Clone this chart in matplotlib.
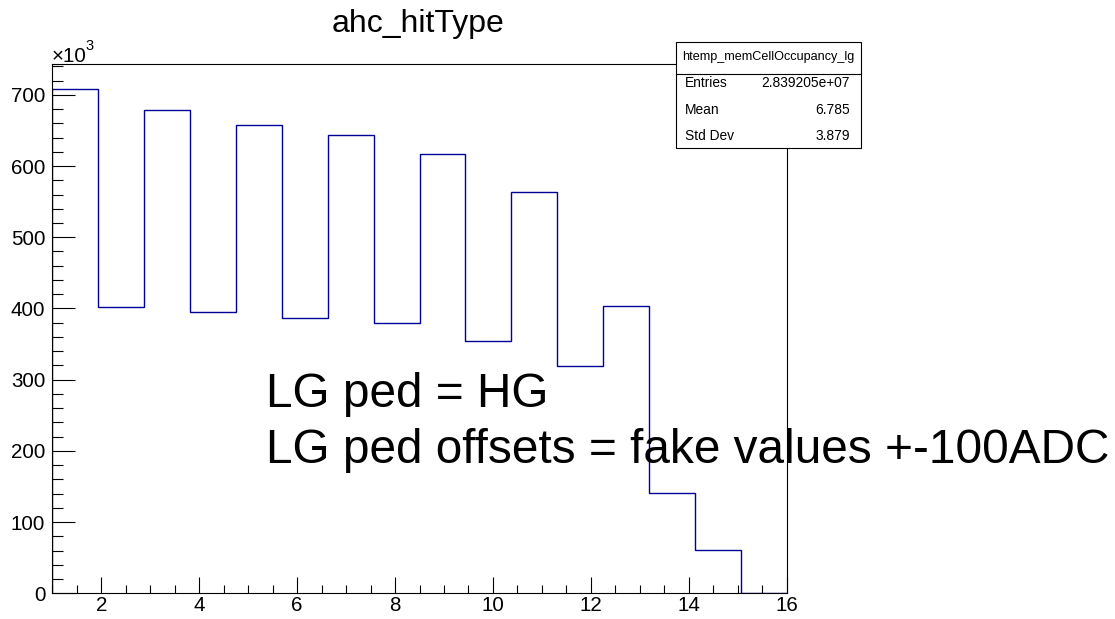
import numpy as np
import matplotlib
matplotlib.use("Agg")
import matplotlib.pyplot as plt
from matplotlib.patches import Rectangle
from matplotlib.lines import Line2D
from matplotlib.ticker import MultipleLocator

plt.rcParams['font.family'] = ['Liberation Sans', 'DejaVu Sans']

# ---- data ----
title = "ahc_hitType"
x_min, x_max, n_bins = 1, 16, 16
counts_k = [707.5, 402.2, 679.3, 395.6, 658.2, 386.2, 643.6, 379.2,
            617.4, 353.9, 563.0, 319.7, 403.1, 141.5, 60.9, 0.0]
y_ticks = [0, 100, 200, 300, 400, 500, 600, 700]
x_ticks = [2, 4, 6, 8, 10, 12, 14, 16]
stat_name = "htemp_memCellOccupancy_lg"
stat_labels = ["Entries", "Mean", "Std Dev"]
stat_values = ["2.839205e+07", "6.785", "3.879"]
note_lines = ["LG ped = HG", "LG ped offsets = fake values +-100ADC"]

W, H = 1115, 619
fig = plt.figure(figsize=(W / 100, H / 100), dpi=100)

def fx(px):
    return px / W

def fy(py):
    return 1 - py / H

ax_l, ax_r, ax_t, ax_b = 52.3, 786.7, 64.3, 593.3
ax = fig.add_axes([fx(ax_l), fy(ax_b), fx(ax_r - ax_l), (ax_b - ax_t) / H])

edges = np.linspace(x_min, x_max, n_bins + 1)
ax.stairs(counts_k, edges, baseline=0, fill=False, color='#000099', linewidth=1.0)

ax.set_xlim(x_min, x_max)
ax.set_ylim(0, 1.05 * max(counts_k))
ax.set_xticks(x_ticks)
ax.set_yticks(y_ticks)
ax.xaxis.set_minor_locator(MultipleLocator(0.5))
ax.yaxis.set_minor_locator(MultipleLocator(20))

for sp in ax.spines.values():
    sp.set_linewidth(0.8)
    sp.set_color('black')

ax.tick_params(axis='y', which='major', direction='in', length=16.5, width=0.8,
               labelsize=14.8, pad=5)
ax.tick_params(axis='y', which='minor', direction='in', length=8, width=0.8)
ax.tick_params(axis='x', which='major', direction='in', length=11.5, width=0.8,
               labelsize=14.8, pad=2)
ax.tick_params(axis='x', which='minor', direction='in', length=5.8, width=0.8)

# title
fig.text(fx(418), fy(32), title, ha='center', va='baseline', fontsize=23)

# x10^3 label
fig.text(fx(51.5), fy(62), "\u00d710", ha='left', va='baseline', fontsize=14.8)
fig.text(fx(85.5), fy(50), "3", ha='left', va='baseline', fontsize=10.5)

# stats box
bx_l, bx_r, bx_t, bx_b = 675.7, 860.7, 42.3, 147.7
rect = Rectangle((fx(bx_l), fy(bx_b)), fx(bx_r - bx_l), (bx_b - bx_t) / H,
                 transform=fig.transFigure, facecolor='white', edgecolor='black',
                 linewidth=0.8, zorder=5)
fig.add_artist(rect)
fig.add_artist(Line2D([fx(bx_l), fx(bx_r)], [fy(74), fy(74)],
                      transform=fig.transFigure, color='black', linewidth=0.8, zorder=6))
fig.text(fx((bx_l + bx_r) / 2), fy(57), stat_name, ha='center', va='center',
         fontsize=9.1, zorder=7)
row_y = [83, 109.5, 136]
for lab, val, yy in zip(stat_labels, stat_values, row_y):
    fig.text(fx(684.7), fy(yy), lab, ha='left', va='center', fontsize=9.9, zorder=7)
    fig.text(fx(850), fy(yy), val, ha='right', va='center', fontsize=9.9, zorder=7)

# annotation
fig.text(fx(266), fy(407), note_lines[0], ha='left', va='baseline', fontsize=34.4)
fig.text(fx(266), fy(463.3), note_lines[1], ha='left', va='baseline', fontsize=34.4)

fig.savefig("out.png", dpi=100)
